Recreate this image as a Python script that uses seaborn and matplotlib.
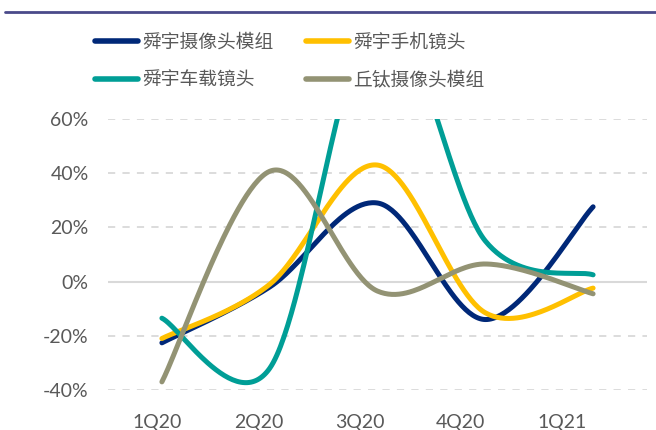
import numpy as np
import pandas as pd
import matplotlib
matplotlib.use("Agg")
import matplotlib.pyplot as plt
import seaborn as sns
from matplotlib.lines import Line2D

# quarters and YoY growth
quarters = ["1Q20", "2Q20", "3Q20", "4Q20", "1Q21"]
sunny_module = [-0.226, -0.02, 0.29, -0.14, 0.276]
sunny_phone_lens = [-0.21, -0.01, 0.43, -0.115, -0.024]
sunny_car_lens = [-0.135, -0.32, 1.00, 0.15, 0.025]
qtech_module = [-0.37, 0.407, -0.035, 0.065, -0.045]

series_names = ["舜宇摄像头模组", "舜宇手机镜头", "舜宇车载镜头", "丘钛摄像头模组"]
series_vals = [sunny_module, sunny_phone_lens, sunny_car_lens, qtech_module]
colors = ["#002878", "#FFC000", "#009E96", "#939374"]

# pixel size of one category / one unit of y, used so the curve bends like Excel's
SX, SY = 107.8, 270.0


def excel_smooth(y, n=60):
    # Excel-style smoothed line: bezier segments, control arms capped at half a segment
    pts = np.column_stack([np.arange(len(y)) * SX, np.asarray(y, float) * SY])
    xs, ys = [], []
    for i in range(len(pts) - 1):
        p1, p2 = pts[i], pts[i + 1]
        p0 = pts[i - 1] if i > 0 else p1
        p3 = pts[i + 2] if i + 2 < len(pts) else p2
        d12 = np.hypot(*(p2 - p1))
        d02 = np.hypot(*(p2 - p0))
        d13 = np.hypot(*(p3 - p1))
        f = min(1 / 6, d12 / (2 * d02)) if d02 > 0 else 1 / 6
        g = min(1 / 6, d12 / (2 * d13)) if d13 > 0 else 1 / 6
        c1 = p1 + f * (p2 - p0)
        c2 = p2 - g * (p3 - p1)
        t = np.linspace(0, 1, n, endpoint=(i == len(pts) - 2))[:, None]
        seg = (1 - t) ** 3 * p1 + 3 * (1 - t) ** 2 * t * c1 + 3 * (1 - t) * t ** 2 * c2 + t ** 3 * p2
        xs.append(seg[:, 0] / SX)
        ys.append(seg[:, 1] / SY)
    return np.concatenate(xs), np.concatenate(ys)


rows = []
for name, vals in zip(series_names, series_vals):
    xs, ys = excel_smooth(vals)
    rows.append(pd.DataFrame({"x": xs, "y": ys, "series": name}))
df = pd.concat(rows, ignore_index=True)

sns.set_theme(style="white")
plt.rcParams["font.family"] = ["Noto Sans CJK SC", "DejaVu Sans"]

fig = plt.figure(figsize=(6.56, 4.30), dpi=100)
ax = fig.add_axes([108 / 656, 1 - 390 / 430, 539 / 656, 271 / 430])

for y in [-0.4, -0.2, 0.2, 0.4, 0.6]:
    ax.axhline(y, color="#D9D9D9", lw=1.3, ls=(0, (4, 4)), zorder=0)
ax.axhline(0, color="#D9D9D9", lw=1.5, zorder=0)

sns.lineplot(data=df, x="x", y="y", hue="series", palette=colors,
             hue_order=series_names, linewidth=3.6, legend=False, ax=ax, sort=False,
             estimator=None)

ax.set_xlim(-0.5, 4.5)
ax.set_ylim(-0.4, 0.6)
# category labels sit a little left of the points in the original
tick_pos = np.arange(len(quarters)) * 0.937 - 0.04
ax.set_xticks(tick_pos)
ax.set_xticklabels(quarters)
yt = [-0.4, -0.2, 0, 0.2, 0.4, 0.6]
ax.set_yticks(yt)
ax.set_yticklabels([f"{int(round(v * 100))}%" for v in yt])
ax.tick_params(axis="both", labelsize=14, length=0)
ax.tick_params(axis="x", pad=17)
ax.tick_params(axis="y", pad=14)
for lab in ax.get_xticklabels() + ax.get_yticklabels():
    lab.set_color("#595959")
    lab.set_family(["Lato", "DejaVu Sans"])
ax.set_xlabel("")
ax.set_ylabel("")
for s in ax.spines.values():
    s.set_visible(False)

# top rule
fig.add_artist(Line2D([5 / 656, 1], [1 - 12 / 430] * 2, color="#4A4A8A", lw=2))

handles = [Line2D([], [], color=c, lw=4, solid_capstyle="round") for c in colors]
order = [0, 2, 1, 3]  # legend fills by column, the chart reads by row
leg = fig.legend([handles[i] for i in order], [series_names[i] for i in order],
                 ncol=2, loc="upper left",
                 bbox_to_anchor=(78 / 656, 1 - 15 / 430), frameon=False,
                 fontsize=13.5, handlelength=2.3, handletextpad=0.25,
                 columnspacing=1.7, labelspacing=0.9)
for t in leg.get_texts():
    t.set_color("#595959")

fig.savefig("out.png", dpi=100)
